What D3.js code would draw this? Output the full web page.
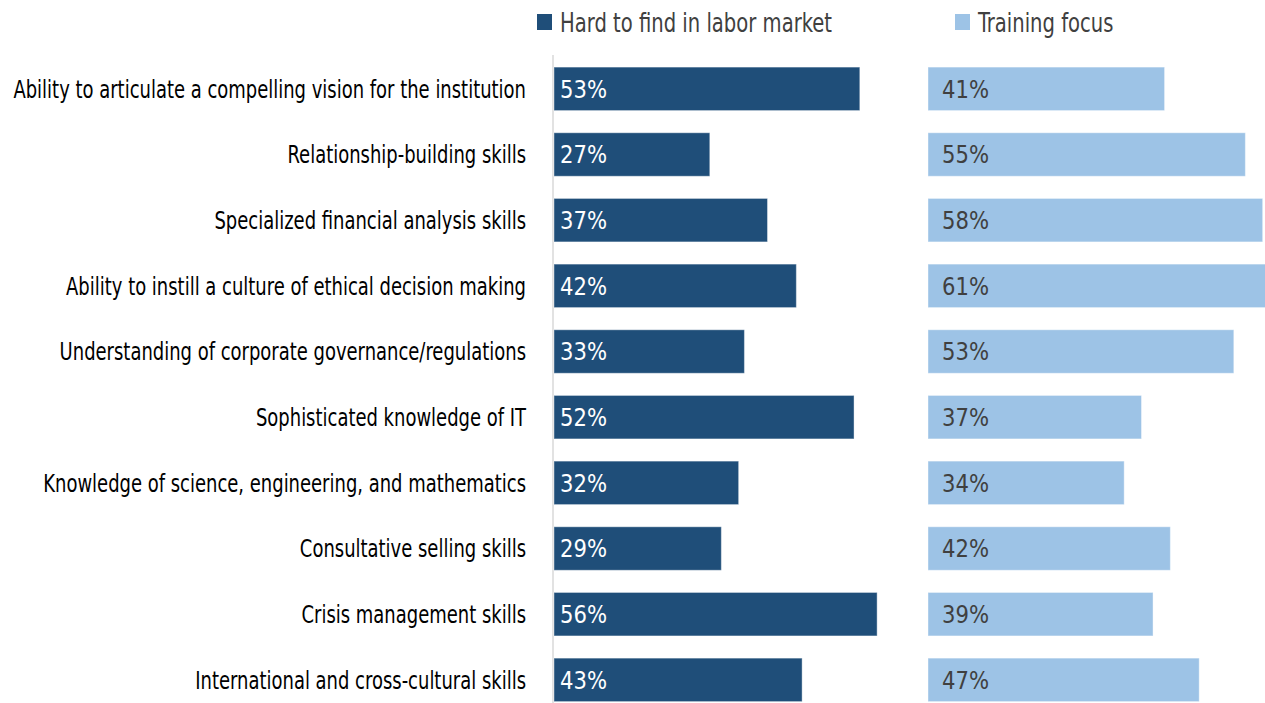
<!DOCTYPE html>
<html>
<head>
<meta charset="utf-8">
<script src="https://cdn.jsdelivr.net/npm/d3@7"></script>
<style>
  body { margin: 0; background: #fff; }
  text { font-family: "DejaVu Sans Condensed", "Liberation Sans Narrow", sans-serif; }
</style>
</head>
<body>
<div id="chart"></div>
<script>
// data
var categories = [
	"Ability to articulate a compelling vision for the institution",
	"Relationship-building skills",
	"Specialized financial analysis skills",
	"Ability to instill a culture of ethical decision making",
	"Understanding of corporate governance/regulations",
	"Sophisticated knowledge of IT",
	"Knowledge of science, engineering, and mathematics",
	"Consultative selling skills",
	"Crisis management skills",
	"International and cross-cultural skills"
];
var hardToFind = [53, 27, 37, 42, 33, 52, 32, 29, 56, 43];
var trainingFocus = [41, 55, 58, 61, 53, 37, 34, 42, 39, 47];
var seriesNames = ["Hard to find in labor market", "Training focus"];

var width = 1265, height = 703;
var darkColor = "#1f4e79", lightColor = "#9dc3e6";
var fontSize = 25.5;

var svg = d3.select("#chart").append("svg")
	.attr("width", width).attr("height", height);

// the reference font is a condensed one; squeeze our text horizontally to match
function squeeze(sel, target) {
	var w = sel.node().getComputedTextLength();
	var k = target / w;
	sel.each(function() {
		var t = d3.select(this);
		var x = +t.attr("x"), yy = +t.attr("y");
		t.attr("transform", "translate(" + x + "," + yy + ") scale(" + k + ",1)")
			.attr("x", 0).attr("y", 0);
	});
}

var y = d3.scaleBand()
	.domain(categories)
	.range([56, 712.7])
	.paddingInner(0.338).paddingOuter(0.169);

// same px per percent on both panels
var xLeft = d3.scaleLinear().domain([0, 100]).range([554, 554 + 577]);
var xRight = d3.scaleLinear().domain([0, 100]).range([928, 928 + 577]);

// category labels
var catLabels = svg.append("g").selectAll("text")
	.data(categories).join("text")
	.attr("x", 526)
	.attr("y", function(d) { return y(d) + y.bandwidth() / 2; })
	.attr("dy", "0.35em")
	.attr("text-anchor", "end")
	.attr("font-size", fontSize)
	.attr("fill", "#000")
	.text(function(d) { return d; });
squeeze(catLabels, 513);

// axis line
svg.append("line")
	.attr("x1", 553).attr("x2", 553)
	.attr("y1", 55).attr("y2", 703)
	.attr("stroke", "#d9d9d9").attr("stroke-width", 1.5);

function drawSeries(values, x, color, textColor, pad) {
	var g = svg.append("g");
	g.selectAll("rect")
		.data(values).join("rect")
		.attr("x", x(0))
		.attr("y", function(d, i) { return y(categories[i]); })
		.attr("width", function(d) { return x(d) - x(0); })
		.attr("height", y.bandwidth())
		.attr("fill", color)
		.attr("stroke", "#ffffff").attr("stroke-opacity", 0.4).attr("stroke-width", 1);
	var labels = g.selectAll("text")
		.data(values).join("text")
		.attr("x", x(0) + pad)
		.attr("y", function(d, i) { return y(categories[i]) + y.bandwidth() / 2; })
		.attr("dy", "0.35em")
		.attr("font-size", fontSize)
		.attr("fill", textColor)
		.text(function(d) { return d + "%"; });
	return labels;
}

squeeze(drawSeries(hardToFind, xLeft, darkColor, "#fff", 6), 47);
squeeze(drawSeries(trainingFocus, xRight, lightColor, "#404040", 14), 47);

// legend
var legendX = [537, 955];
var legendColors = [darkColor, lightColor];
var legend = svg.append("g").selectAll("g")
	.data(seriesNames).join("g")
	.attr("transform", function(d, i) { return "translate(" + legendX[i] + ",14)"; });
legend.append("rect")
	.attr("width", 15).attr("height", 16)
	.attr("fill", function(d, i) { return legendColors[i]; });
var legendText = legend.append("text")
	.attr("x", 23).attr("y", 8)
	.attr("dy", "0.36em")
	.attr("font-size", 26.5)
	.attr("fill", "#404040")
	.text(function(d) { return d; });
squeeze(legendText, 272);
</script>
</body>
</html>
